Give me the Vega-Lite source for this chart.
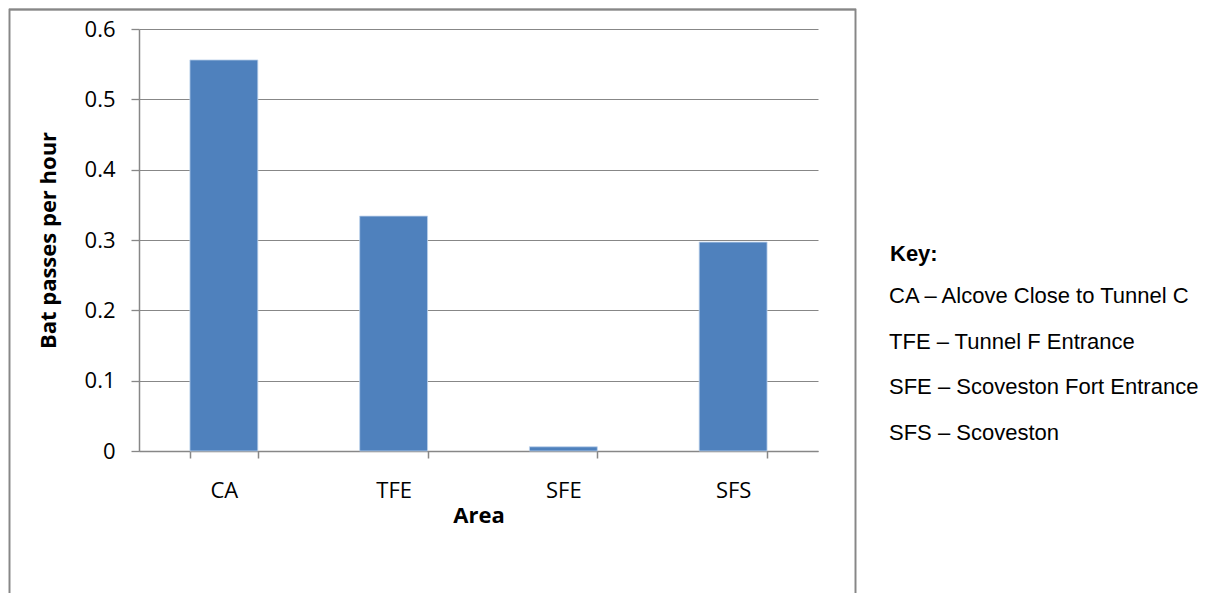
{
  "$schema": "https://vega.github.io/schema/vega-lite/v6.json",
  "autosize": "none",
  "width": 679,
  "height": 422,
  "padding": {"left": 139, "top": 29, "right": 397, "bottom": 142},
  "background": "white",
  "config": {
    "view": {"stroke": null},
    "font": "Open Sans"
  },
  "data": {
    "values": [
      {"area": "CA", "rate": 0.556},
      {"area": "TFE", "rate": 0.334},
      {"area": "SFE", "rate": 0.006},
      {"area": "SFS", "rate": 0.297}
    ]
  },
  "layer": [
    {
      "mark": {"type": "rect", "fill": null, "stroke": "#878787", "strokeWidth": 1.3, "clip": false},
      "encoding": {
        "x": {"value": -129.5},
        "x2": {"value": 716.5},
        "y": {"value": -19.5},
        "y2": {"value": 620}
      }
    },
    {
      "mark": {"type": "bar", "color": "#4F81BD", "stroke": "#BFD3EC", "strokeWidth": 0.8},
      "encoding": {
        "x": {
          "field": "area",
          "type": "nominal",
          "sort": null,
          "scale": {"paddingInner": 0.6, "paddingOuter": 0.3},
          "axis": {
            "title": "Area",
            "titleFont": "Open Sans",
            "titleFontSize": 22,
            "titleFontWeight": "bold",
            "titleColor": "black",
            "titlePadding": 4,
            "labelFont": "Open Sans",
            "labelFontSize": 22,
            "labelColor": "black",
            "labelAngle": 0,
            "labelPadding": 22,
            "tickBand": "extent",
            "tickSize": 7,
            "tickColor": "#878787",
            "tickWidth": 1.5,
            "domainColor": "#878787",
            "domainWidth": 1.5
          }
        },
        "y": {
          "field": "rate",
          "type": "quantitative",
          "scale": {"domain": [0, 0.6], "nice": false},
          "axis": {
            "title": "Bat passes per hour",
            "titleFont": "Open Sans",
            "titleFontSize": 22,
            "titleFontWeight": "bold",
            "titleColor": "black",
            "titlePadding": 24,
            "values": [0, 0.1, 0.2, 0.3, 0.4, 0.5, 0.6],
            "format": ".1~f",
            "labelFont": "Open Sans",
            "labelFontSize": 22,
            "labelColor": "black",
            "labelPadding": 16,
            "tickSize": 8,
            "tickColor": "#878787",
            "tickWidth": 1.3,
            "grid": true,
            "gridColor": "#878787",
            "gridWidth": 1.2,
            "domainColor": "#878787",
            "domainWidth": 1.5
          }
        },
        "color": {
          "field": "area",
          "type": "nominal",
          "sort": null,
          "scale": {"range": ["#4F81BD"]},
          "legend": {
            "orient": "none",
            "legendX": 751,
            "legendY": 215,
            "title": "Key:",
            "titleFont": "Liberation Sans",
            "titleFontSize": 22,
            "titleFontWeight": "bold",
            "titleColor": "black",
            "titlePadding": 19,
            "labelFont": "Liberation Sans",
            "labelFontSize": 22,
            "labelColor": "black",
            "labelLimit": 500,
            "labelOffset": -23,
            "symbolSize": 0,
            "symbolOpacity": 0,
            "symbolStrokeWidth": 0,
            "rowPadding": 23.5,
            "labelExpr": "{'CA': 'CA – Alcove Close to Tunnel C', 'TFE': 'TFE – Tunnel F Entrance', 'SFE': 'SFE – Scoveston Fort Entrance', 'SFS': 'SFS – Scoveston'}[datum.label]"
          }
        }
      }
    }
  ]
}
